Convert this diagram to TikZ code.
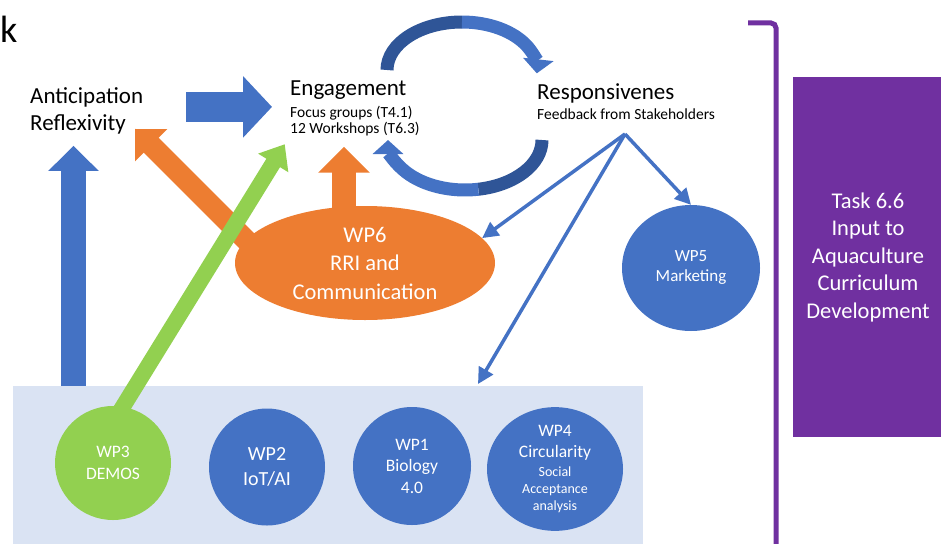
\documentclass[tikz,border=0pt]{standalone}
\usepackage{fontspec}
\setmainfont{Carlito}
\usetikzlibrary{arrows.meta,shapes.geometric}

\definecolor{wpblue}{HTML}{4472C4}
\definecolor{wpdark}{HTML}{2F5597}
\definecolor{wporange}{HTML}{ED7D31}
\definecolor{wpgreen}{HTML}{92D050}
\definecolor{wppale}{HTML}{DAE3F3}
\definecolor{wppurple}{HTML}{7030A0}

\begin{document}
\begin{tikzpicture}[x=1pt, y=1pt]

\tikzset{
  headline/.style={inner sep=0pt, anchor=base west, font=\fontsize{23}{27}\selectfont},
  subline/.style={inner sep=0pt, anchor=base west, font=\fontsize{15.5}{18}\selectfont},
  wp node/.style={ellipse, fill=wpblue, text=white, inner sep=0pt, align=center},
  fat arrow/.style args={#1/#2/#3}{line width=#1, arrows={-{Triangle[width=#2,length=#3]}}},
  thin arrow/.style={wpblue, line width=3.5pt, arrows={-{Triangle[width=16pt,length=16pt]}}},
  loop arc/.style={line width=13pt},
}

\useasboundingbox (0,0) rectangle (941,-543);
\clip (0,0) rectangle (941,-543);

\node[anchor=base west, inner sep=0pt, font=\fontsize{38}{40}\selectfont] (title) at (0,-43) {k};

% work package strip
\node[fill=wppale, anchor=north west, inner sep=0pt, minimum width=630pt, minimum height=160pt] (wps) at (13,-386) {};

% RRI dimensions
\node[headline] (antic) at (30,-103) {Anticipation};
\node[headline] (reflex) at (30,-130) {Reflexivity};
\node[headline] (engage) at (290,-95) {Engagement};
\node[subline] (focus) at (290,-117) {Focus groups (T4.1)};
\node[subline] (work) at (290,-133) {12 Workshops (T6.3)};
\node[headline] (resp) at (537,-99) {Responsivenes};
\node[subline] (feedback) at (537,-119) {Feedback from Stakeholders};

% work packages
\node[wp node, fill=wpgreen, minimum width=116pt, minimum height=114pt, font=\fontsize{17.5}{22}\selectfont] (wp3) at (113,-463) {WP3\\DEMOS};
\node[wp node, minimum width=116pt, minimum height=117pt, font=\fontsize{20}{25}\selectfont] (wp2) at (267,-467) {WP2\\IoT/AI};
\node[wp node, minimum width=118pt, minimum height=118pt, font=\fontsize{17.5}{21.5}\selectfont] (wp1) at (412,-466) {WP1\\Biology\\4.0};
\node[wp node, minimum width=136pt, minimum height=114pt, font=\fontsize{17.5}{21}\selectfont] (wp4) at (555,-469)
  {WP4\\Circularity\\[-2pt]\fontsize{14}{17}\selectfont Social\\[-4pt]\fontsize{14}{17}\selectfont Acceptance\\[-4pt]\fontsize{14}{17}\selectfont analysis};
\node[wp node, minimum width=138pt, minimum height=126pt, font=\fontsize{17}{20}\selectfont] (wp5) at (691,-268) {WP5\\Marketing};
\node[wp node, fill=wporange, minimum width=260pt, minimum height=114pt, font=\fontsize{22.5}{28.5}\selectfont] (wp6) at (365,-263) {WP6\\RRI and\\Communication};

% task box and bracket
\node[fill=wppurple, text=white, inner sep=0pt, align=center, minimum width=150pt, minimum height=360pt, font=\fontsize{22.5}{27.5}\selectfont] (task) at (868,-257)
  {Task 6.6\\Input to\\Aquaculture\\Curriculum\\Development};
\draw[wppurple, line width=5pt, rounded corners=5pt] (748,-23) -- (776,-23) -- (776,-550);

% block arrows
\coordinate (upfoot) at ([xshift=60.5pt]wps.north west);
\draw[wpblue, fat arrow=25pt/49pt/25pt, shorten >=12pt] (upfoot) -- (upfoot |- reflex.south);
\draw[wpblue, fat arrow=30pt/60pt/29pt, shorten <=43pt, shorten >=18pt] (antic.south east) -- (antic.south east -| engage.west);

\coordinate (wp6foot) at ([xshift=-21pt]wp6.north);
\draw[wporange, fat arrow=24pt/50pt/26pt, shorten <=-10pt, shorten >=11pt] (wp6foot) -- (wp6foot |- work.south);
\coordinate (reflcorner) at ([yshift=-6pt]reflex.north east);
\draw[wporange, fat arrow=21pt/44pt/23pt, shorten <=-12pt, shorten >=12.7pt] (wp6.169) -- (reflcorner);

\draw[wpgreen, fat arrow=16pt/34pt/22pt, shorten <=-8pt, shorten >=10pt] (wp3.80) -- (work.south west);

% feedback links
\coordinate (fork) at (625,-134);
\coordinate (stripin) at ([xshift=465pt, yshift=2pt]wps.north west);
\draw[thin arrow] (fork) -- (wp6.12);
\draw[thin arrow] (fork) -- (stripin);
\draw[thin arrow] (fork) -- (wp5.north);

% engagement / responsiveness loop
\coordinate (looptop) at (462,-70);
\coordinate (loopbot) at (465,-140);
\draw[loop arc, wpdark] (looptop) ++(180:75 and 48) arc[start angle=180, end angle=90, x radius=75, y radius=48];
\draw[loop arc, wpblue, arrows={-{Triangle[width=30pt,length=14pt]}}] (looptop) ++(90:75 and 48) arc[start angle=90, end angle=-4, x radius=75, y radius=48];
\draw[loop arc, wpdark] (loopbot) ++(0:77 and 50) arc[start angle=0, end angle=-80, x radius=77, y radius=50];
\draw[loop arc, wpblue, arrows={-{Triangle[width=30pt,length=14pt]}}] (loopbot) ++(-80:77 and 50) arc[start angle=-80, end angle=-180, x radius=77, y radius=50];

\end{tikzpicture}
\end{document}
